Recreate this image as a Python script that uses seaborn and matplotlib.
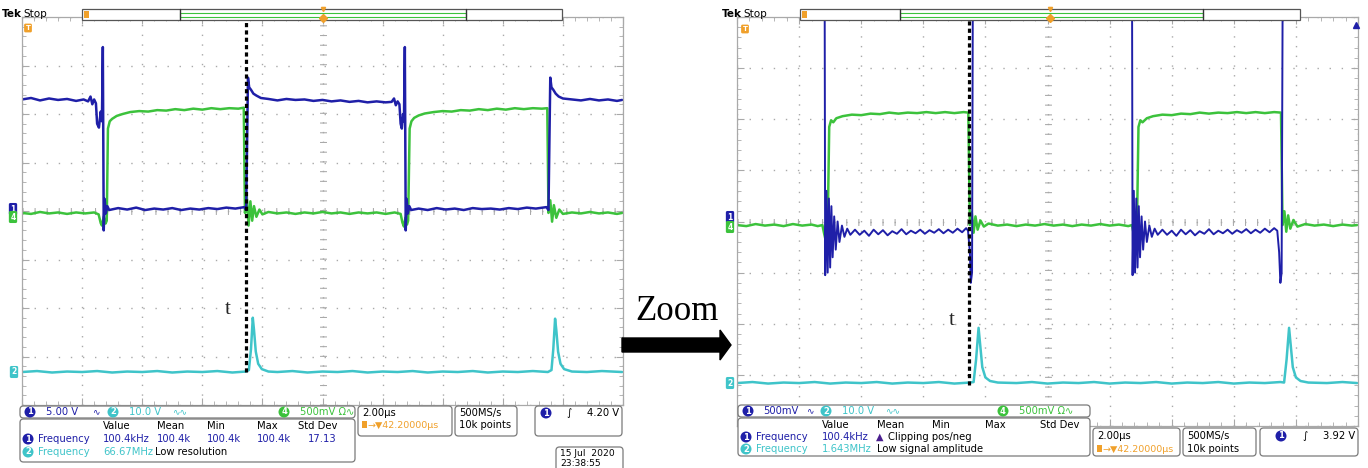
import numpy as np
import pandas as pd
import matplotlib
matplotlib.use("Agg")
import matplotlib.pyplot as plt
import seaborn as sns
from matplotlib.patches import FancyBboxPatch, Rectangle, Polygon

# ---------------- data: (time in µs, level in screen divisions) ----------------
# Left screen (5.00 V/div ch1, 10.0 V ch2, 500 mV ch4, 2.00 µs/div)
L_CH1 = [(0.00, 6.30), (0.30, 6.33), (0.60, 6.28), (0.90, 6.32), (1.20, 6.29), (1.50, 6.31),
         (1.80, 6.27), (2.05, 6.30), (2.20, 6.26), (2.28, 6.36), (2.34, 6.20), (2.40, 6.30),
         (2.46, 6.22), (2.50, 5.80), (2.56, 5.72), (2.62, 6.05), (2.66, 5.85), (2.69, 7.38),
         (2.72, 3.60), (2.75, 4.25), (2.79, 3.95), (2.84, 4.10), (2.90, 4.02), (3.20, 4.06),
         (3.50, 4.03), (3.80, 4.07), (4.10, 4.02), (4.40, 4.05), (4.70, 4.03), (5.00, 4.06),
         (5.30, 4.02), (5.60, 4.05), (5.90, 4.03), (6.20, 4.06), (6.50, 4.04), (6.80, 4.07),
         (7.10, 4.05), (7.40, 4.08), (7.46, 4.02), (7.52, 6.75), (7.56, 6.55), (7.62, 6.50),
         (7.70, 6.42), (7.80, 6.38), (7.95, 6.33), (8.20, 6.31), (8.50, 6.28), (8.80, 6.31),
         (9.10, 6.29), (9.40, 6.30), (9.70, 6.27), (10.0, 6.29), (10.3, 6.26), (10.6, 6.28),
         (10.9, 6.25), (11.2, 6.27), (11.5, 6.24), (11.8, 6.26), (12.1, 6.24), (12.30, 6.25),
         (12.38, 6.32), (12.44, 6.18), (12.50, 6.26), (12.56, 6.20), (12.60, 5.80), (12.64, 5.70),
         (12.68, 6.00), (12.71, 5.85), (12.74, 7.38), (12.77, 3.60), (12.80, 4.25), (12.84, 3.95),
         (12.89, 4.10), (12.95, 4.02), (13.2, 4.05), (13.5, 4.02), (13.8, 4.06), (14.1, 4.03),
         (14.4, 4.05), (14.7, 4.02), (15.0, 4.06), (15.3, 4.04), (15.6, 4.05), (15.9, 4.03),
         (16.2, 4.06), (16.5, 4.04), (16.8, 4.07), (17.1, 4.05), (17.45, 4.08), (17.52, 4.02),
         (17.58, 6.75), (17.62, 6.55), (17.68, 6.50), (17.76, 6.42), (17.86, 6.36), (18.0, 6.32),
         (18.3, 6.30), (18.6, 6.28), (18.9, 6.31), (19.2, 6.28), (19.5, 6.30), (19.8, 6.27),
         (19.97, 6.29)]
L_CH4 = [(0.0, 3.96), (0.3, 3.94), (0.6, 3.98), (0.9, 3.95), (1.2, 3.97), (1.5, 3.94), (1.8, 3.97),
         (2.1, 3.95), (2.4, 3.97), (2.55, 3.93), (2.62, 3.75), (2.66, 3.70), (2.72, 3.88),
         (2.78, 3.74), (2.82, 3.80), (2.86, 5.70), (2.92, 5.85), (3.0, 5.90), (3.15, 5.96),
         (3.35, 6.00), (3.6, 6.04), (3.9, 6.06), (4.2, 6.05), (4.5, 6.08), (4.8, 6.07), (5.1, 6.10),
         (5.4, 6.08), (5.7, 6.11), (6.0, 6.09), (6.3, 6.12), (6.6, 6.10), (6.9, 6.12), (7.2, 6.11),
         (7.38, 6.13), (7.42, 3.96), (7.48, 4.30), (7.54, 3.70), (7.60, 4.20), (7.66, 3.80),
         (7.72, 4.10), (7.80, 3.88), (7.90, 4.03), (8.0, 3.93), (8.2, 3.98), (8.5, 3.95), (8.8, 3.97),
         (9.1, 3.94), (9.4, 3.97), (9.7, 3.95), (10.0, 3.98), (10.3, 3.95), (10.6, 3.97), (10.9, 3.94),
         (11.2, 3.97), (11.5, 3.95), (11.8, 3.97), (12.1, 3.94), (12.4, 3.97), (12.6, 3.94),
         (12.66, 3.76), (12.71, 3.68), (12.76, 3.86), (12.81, 3.72), (12.85, 3.80), (12.90, 5.70),
         (12.96, 5.85), (13.05, 5.92), (13.2, 5.97), (13.4, 6.01), (13.7, 6.04), (14.0, 6.06),
         (14.3, 6.05), (14.6, 6.08), (14.9, 6.07), (15.2, 6.10), (15.5, 6.08), (15.8, 6.11),
         (16.1, 6.09), (16.4, 6.12), (16.7, 6.10), (17.0, 6.12), (17.3, 6.11), (17.48, 6.12),
         (17.52, 3.96), (17.58, 4.22), (17.64, 3.78), (17.70, 4.12), (17.78, 3.86), (17.88, 4.03),
         (18.0, 3.94), (18.3, 3.97), (18.6, 3.95), (18.9, 3.98), (19.2, 3.95), (19.5, 3.97),
         (19.8, 3.94), (19.97, 3.96)]
L_CH2 = [(0.0, 0.68), (0.5, 0.70), (1.0, 0.67), (1.5, 0.69), (2.0, 0.68), (2.5, 0.70), (3.0, 0.67),
         (3.5, 0.69), (4.0, 0.68), (4.5, 0.70), (5.0, 0.67), (5.5, 0.69), (6.0, 0.68), (6.5, 0.70),
         (7.0, 0.67), (7.45, 0.69), (7.55, 0.72), (7.62, 1.15), (7.68, 1.80), (7.72, 1.55),
         (7.78, 1.10), (7.86, 0.85), (7.98, 0.74), (8.2, 0.69), (8.5, 0.68), (9.0, 0.70), (9.5, 0.67),
         (10.0, 0.69), (10.5, 0.68), (11.0, 0.70), (11.5, 0.67), (12.0, 0.69), (12.5, 0.68),
         (13.0, 0.70), (13.5, 0.67), (14.0, 0.69), (14.5, 0.68), (15.0, 0.70), (15.5, 0.67),
         (16.0, 0.69), (16.5, 0.68), (17.0, 0.70), (17.5, 0.68), (17.62, 0.72), (17.68, 1.15),
         (17.74, 1.78), (17.78, 1.55), (17.84, 1.10), (17.92, 0.85), (18.04, 0.74), (18.3, 0.69),
         (18.8, 0.68), (19.3, 0.70), (19.97, 0.68)]

# Right screen (zoomed: 500 mV/div ch1, clipped)
R_CH1_A = [(2.82, 9.5), (2.84, 2.95), (2.88, 4.60), (2.92, 3.00), (2.96, 4.45), (3.00, 3.10),
           (3.04, 4.30), (3.08, 3.30), (3.13, 4.10), (3.18, 3.45), (3.24, 4.00), (3.30, 3.60),
           (3.38, 3.92), (3.46, 3.70), (3.55, 3.86), (3.65, 3.74), (3.80, 3.84), (3.95, 3.74),
           (4.10, 3.82), (4.25, 3.72), (4.40, 3.84), (4.55, 3.75), (4.70, 3.83), (4.85, 3.73),
           (5.00, 3.81), (5.15, 3.76), (5.30, 3.85), (5.45, 3.75), (5.60, 3.82), (5.75, 3.77),
           (5.90, 3.84), (6.05, 3.76), (6.20, 3.83), (6.35, 3.78), (6.50, 3.85), (6.65, 3.77),
           (6.80, 3.84), (6.95, 3.78), (7.10, 3.86), (7.25, 3.79), (7.38, 3.87), (7.44, 3.82),
           (7.50, 3.40), (7.53, 2.80), (7.57, 3.00), (7.60, 9.5)]
R_CH1_B = [(12.72, 9.5), (12.74, 2.95), (12.78, 4.60), (12.82, 3.00), (12.86, 4.45), (12.90, 3.10),
           (12.94, 4.30), (12.98, 3.30), (13.03, 4.10), (13.08, 3.45), (13.14, 4.00), (13.20, 3.60),
           (13.28, 3.92), (13.36, 3.70), (13.45, 3.86), (13.55, 3.74), (13.70, 3.84), (13.85, 3.74),
           (14.00, 3.82), (14.15, 3.72), (14.30, 3.84), (14.45, 3.75), (14.60, 3.83), (14.75, 3.73),
           (14.90, 3.81), (15.05, 3.76), (15.20, 3.85), (15.35, 3.75), (15.50, 3.82), (15.65, 3.77),
           (15.80, 3.84), (15.95, 3.76), (16.10, 3.83), (16.25, 3.78), (16.40, 3.85), (16.55, 3.77),
           (16.70, 3.84), (16.85, 3.78), (17.00, 3.86), (17.15, 3.79), (17.30, 3.87), (17.40, 3.82),
           (17.46, 3.40), (17.50, 2.80), (17.54, 3.00), (17.58, 9.5)]
R_CH4 = [(0.0, 3.93), (0.3, 3.91), (0.6, 3.95), (0.9, 3.92), (1.2, 3.94), (1.5, 3.91), (1.8, 3.95),
         (2.1, 3.92), (2.4, 3.94), (2.6, 3.91), (2.75, 3.93), (2.80, 3.78), (2.86, 3.62),
         (2.92, 3.85), (2.97, 5.85), (3.03, 5.98), (3.10, 5.94), (3.2, 6.02), (3.4, 6.06),
         (3.7, 6.09), (4.0, 6.08), (4.3, 6.11), (4.6, 6.10), (4.9, 6.13), (5.2, 6.11), (5.5, 6.13),
         (5.8, 6.12), (6.1, 6.14), (6.4, 6.12), (6.7, 6.14), (7.0, 6.12), (7.3, 6.14), (7.45, 6.13),
         (7.50, 3.93), (7.56, 4.18), (7.62, 3.78), (7.68, 4.10), (7.75, 3.84), (7.84, 4.02),
         (7.95, 3.90), (8.1, 3.96), (8.4, 3.92), (8.7, 3.94), (9.0, 3.91), (9.3, 3.94), (9.6, 3.92),
         (9.9, 3.95), (10.2, 3.92), (10.5, 3.94), (10.8, 3.91), (11.1, 3.94), (11.4, 3.92),
         (11.7, 3.95), (12.0, 3.92), (12.3, 3.94), (12.6, 3.91), (12.72, 3.93), (12.77, 3.78),
         (12.83, 3.62), (12.88, 3.85), (12.93, 5.85), (12.99, 5.98), (13.06, 5.94), (13.2, 6.02),
         (13.4, 6.06), (13.7, 6.09), (14.0, 6.08), (14.3, 6.11), (14.6, 6.10), (14.9, 6.13),
         (15.2, 6.11), (15.5, 6.13), (15.8, 6.12), (16.1, 6.14), (16.4, 6.12), (16.7, 6.14),
         (17.0, 6.12), (17.3, 6.14), (17.52, 6.13), (17.57, 3.93), (17.63, 4.20), (17.69, 3.80),
         (17.75, 4.12), (17.82, 3.86), (17.92, 4.03), (18.05, 3.90), (18.3, 3.95), (18.6, 3.92),
         (18.9, 3.94), (19.2, 3.91), (19.5, 3.94), (19.8, 3.92), (19.97, 3.93)]
R_CH2 = [(0.0, 0.84), (0.5, 0.86), (1.0, 0.83), (1.5, 0.85), (2.0, 0.84), (2.5, 0.86), (3.0, 0.83),
         (3.5, 0.85), (4.0, 0.84), (4.5, 0.86), (5.0, 0.83), (5.5, 0.85), (6.0, 0.84), (6.5, 0.86),
         (7.0, 0.83), (7.5, 0.85), (7.62, 0.86), (7.70, 1.30), (7.78, 1.92), (7.83, 1.60),
         (7.90, 1.15), (8.0, 0.95), (8.15, 0.88), (8.4, 0.85), (9.0, 0.84), (9.5, 0.86), (10.0, 0.83),
         (10.5, 0.85), (11.0, 0.84), (11.5, 0.86), (12.0, 0.83), (12.5, 0.85), (13.0, 0.84),
         (13.5, 0.86), (14.0, 0.83), (14.5, 0.85), (15.0, 0.84), (15.5, 0.86), (16.0, 0.83),
         (16.5, 0.85), (17.0, 0.84), (17.5, 0.86), (17.62, 0.85), (17.70, 1.30), (17.78, 1.92),
         (17.83, 1.60), (17.90, 1.15), (18.0, 0.95), (18.15, 0.88), (18.4, 0.85), (19.0, 0.84),
         (19.5, 0.86), (19.97, 0.84)]

# marker "t" (time of interest, µs) and bottom of the dashed marker (div)
L_MARK_T, L_MARK_BOTTOM = 7.44, 0.68
R_MARK_T, R_MARK_BOTTOM = 7.48, 0.80

# readout text
L_SCALES = ["5.00 V", "10.0 V", "500mV Ω∿"]
R_SCALES = ["500mV", "10.0 V", "500mV Ω∿"]
MEAS_HEAD = ["Value", "Mean", "Min", "Max", "Std Dev"]
L_MEAS_1 = ["100.4kHz", "100.4k", "100.4k", "100.4k", "17.13"]
L_MEAS_2 = ["66.67MHz", "Low resolution"]
R_MEAS_1 = ["100.4kHz", "Clipping pos/neg"]
R_MEAS_2 = ["1.643MHz", "Low signal amplitude"]
TIMEBASE = ["2.00µs", "→▼42.20000µs", "500MS/s", "10k points"]
L_TRIG, R_TRIG = "4.20 V", "3.92 V"

# ---------------- style ----------------
sns.set_theme(style="white")
plt.rcParams["font.family"] = ["DejaVu Sans"]
BLUE, GREEN, CYAN = "#1f1fa8", "#3cc23c", "#3fc4c9"
ORANGE, GRIDC, BOXC = "#f0a02a", "#a9a9a9", "#7a7a7a"
W, H = 1368, 468

fig = plt.figure(figsize=(W / 100, H / 100), dpi=100)
fig.patch.set_facecolor("white")


def ax_px(x0, y0, x1, y1):
    return fig.add_axes([x0 / W, 1 - y1 / H, (x1 - x0) / W, (y1 - y0) / H])


def trace(ax, pts, color, lw=1.8, unit=0):
    df = pd.DataFrame(pts, columns=["t", "v"])
    df["seg"] = unit
    sns.lineplot(data=df, x="t", y="v", units="seg", estimator=None, sort=False,
                 color=color, lw=lw, ax=ax, legend=False)


def setup_scope(ax):
    ax.set_xlim(0, 20)
    ax.set_ylim(0, 8)
    ax.set_facecolor("white")
    ax.set_xticks(np.arange(0, 20.01, 2))
    ax.set_yticks(np.arange(0, 8.01, 1))
    ax.set_xticks(np.arange(0, 20.01, 0.4), minor=True)
    ax.set_yticks(np.arange(0, 8.01, 0.2), minor=True)
    ax.tick_params(which="both", direction="in", top=True, right=True, bottom=True, left=True,
                   labelbottom=False, labelleft=False, color=GRIDC)
    ax.tick_params(which="major", length=5, width=0.8)
    ax.tick_params(which="minor", length=3, width=0.6)
    ax.set_xlabel("")
    ax.set_ylabel("")
    for s in ax.spines.values():
        s.set_color(GRIDC)
        s.set_linewidth(0.9)
    ax.xaxis.grid(True, which="major", color=GRIDC, lw=1.0, ls=(0, (1, 6)))
    ax.yaxis.grid(True, which="major", color=GRIDC, lw=1.0, ls=(0, (1, 7.7)))
    ax.axvline(10, color=GRIDC, lw=5, ls=(0, (0.15, 1.25)), zorder=0.5)
    ax.axhline(4, color=GRIDC, lw=5, ls=(0, (0.15, 1.59)), zorder=0.5)
    ax.set_axisbelow(True)


axL = ax_px(22, 17, 623, 405)
axR = ax_px(737, 17, 1358, 426)

trace(axL, L_CH4, GREEN)
trace(axL, L_CH1, BLUE)
trace(axL, L_CH2, CYAN)
trace(axR, R_CH4, GREEN)
trace(axR, R_CH1_A, BLUE, lw=1.4)
trace(axR, R_CH1_B, BLUE, lw=1.4)
trace(axR, R_CH2, CYAN)

for ax in (axL, axR):
    setup_scope(ax)

axL.plot([L_MARK_T, L_MARK_T], [L_MARK_BOTTOM, 8.15], color="black", lw=2.3,
         ls=(0, (1.3, 1.0)), clip_on=False, zorder=5)
axR.plot([R_MARK_T, R_MARK_T], [R_MARK_BOTTOM, 8.0], color="black", lw=2.3,
         ls=(0, (1.3, 1.0)), clip_on=False, zorder=5)
axL.text(L_MARK_T - 0.6, 1.96, "t", family="Liberation Serif", fontsize=15, ha="center", va="center")
axR.text(R_MARK_T - 0.55, 2.07, "t", family="Liberation Serif", fontsize=15, ha="center", va="center")

# ---------------- overlay for the instrument read-outs ----------------
ov = fig.add_axes([0, 0, 1, 1])
ov.set_xlim(0, W)
ov.set_ylim(H, 0)
ov.axis("off")
ov.patch.set_visible(False)

FS = 7.2


def txt(x, y, s, color="black", ha="left", size=FS, **kw):
    ov.text(x, y, s, color=color, ha=ha, va="center", fontsize=size, **kw)


def badge(x, y, s, color, style="circle,pad=0.12", size=6):
    ov.text(x, y, s, color="white", ha="center", va="center", fontsize=size, fontweight="bold",
            bbox=dict(boxstyle=style, fc=color, ec="none"))


def rbox(x0, y0, x1, y1):
    ov.add_patch(FancyBboxPatch((x0, y0), x1 - x0, y1 - y0,
                                boxstyle="round,pad=0,rounding_size=3.5",
                                ec=BOXC, fc="white", lw=0.9))


def header(x0, bx0, bm0, bm1, bx1, xc):
    txt(x0, 14, "Tek", fontweight="bold", size=7.5)
    txt(x0 + 21, 14, "Stop", size=7.5)
    ov.add_patch(Rectangle((bx0, 9), bx1 - bx0, 11, ec="#555555", fc="white", lw=0.9))
    ov.plot([bm0, bm0], [9, 20], color="#333333", lw=1.0)
    ov.plot([bm1, bm1], [9, 20], color="#333333", lw=1.0)
    ov.add_patch(Rectangle((bm0, 12.5), bm1 - bm0, 4, ec=GREEN, fc="none", lw=0.8))
    ov.add_patch(Rectangle((bx0 + 2, 11), 5, 7, ec="none", fc=ORANGE))
    ov.plot([xc], [17.5], marker="D", ms=4, color=ORANGE)
    ov.plot([xc], [9], marker="v", ms=3, color=ORANGE)


header(2, 82, 180, 466, 562, 323)
header(722, 800, 900, 1203, 1300, 1050)

# channel markers on the left edges
badge(13, 209, "1", BLUE, "round,pad=0.2", 5.5)
badge(13, 217, "4", GREEN, "round,pad=0.2", 5.5)
badge(14, 372, "2", CYAN, "round,pad=0.2", 5.5)
badge(730, 217, "1", BLUE, "round,pad=0.2", 5.5)
badge(730, 227, "4", GREEN, "round,pad=0.2", 5.5)
badge(730, 383, "2", CYAN, "round,pad=0.2", 5.5)
badge(28, 28, "T", ORANGE, "round,pad=0.2", 5)
badge(745, 29, "T", ORANGE, "round,pad=0.2", 5)
ov.plot([1356], [25], marker="^", ms=4.5, color=BLUE)

# ---- left read-outs ----
rbox(20, 406, 355, 418)
badge(30, 412, "1", BLUE)
txt(46, 412, L_SCALES[0], BLUE)
txt(92, 412, "∿", BLUE, size=6.5)
badge(113, 412, "2", CYAN)
txt(129, 412, L_SCALES[1], CYAN)
txt(172, 412, "∿∿", CYAN, size=6.5)
badge(284, 412, "4", GREEN)
txt(300, 412, L_SCALES[2], GREEN)

rbox(20, 419, 355, 462)
for x, s in zip([103, 157, 207, 257, 298], MEAS_HEAD):
    txt(x, 426, s)
badge(28, 439, "1", BLUE)
txt(38, 439, "Frequency", BLUE)
for x, s in zip([103, 157, 207, 257, 308], L_MEAS_1):
    txt(x, 439, s, BLUE)
badge(28, 452, "2", CYAN)
txt(38, 452, "Frequency", CYAN)
txt(103, 452, L_MEAS_2[0], CYAN)
txt(155, 452, L_MEAS_2[1])

rbox(358, 406, 452, 436)
txt(362, 413, TIMEBASE[0])
ov.add_patch(Rectangle((362, 421), 5, 7, ec="none", fc=ORANGE))
txt(367, 425, TIMEBASE[1], ORANGE, size=6.8)
rbox(455, 406, 517, 436)
txt(459, 413, TIMEBASE[2])
txt(459, 425, TIMEBASE[3])
rbox(535, 406, 622, 436)
badge(546, 413, "1", BLUE)
txt(566, 413, "∫")
txt(619, 413, L_TRIG, ha="right")
rbox(556, 447, 623, 475)
txt(560, 454, "15 Jul  2020", size=6.6)
txt(560, 463, "23:38:55", size=6.6)

# ---- right read-outs ----
rbox(738, 405, 1090, 417)
badge(748, 411, "1", BLUE)
txt(763, 411, R_SCALES[0], BLUE)
txt(806, 411, "∿", BLUE, size=6.5)
badge(826, 411, "2", CYAN)
txt(842, 411, R_SCALES[1], CYAN)
txt(885, 411, "∿∿", CYAN, size=6.5)
badge(1003, 411, "4", GREEN)
txt(1019, 411, R_SCALES[2], GREEN)

rbox(738, 418, 1090, 456)
for x, s in zip([822, 877, 932, 985, 1040], MEAS_HEAD):
    txt(x, 425, s)
badge(746, 437, "1", BLUE)
txt(756, 437, "Frequency", BLUE)
txt(822, 437, R_MEAS_1[0], BLUE)
txt(876, 437, "▲", "#4b1f8f", size=7)
txt(888, 437, R_MEAS_1[1])
badge(746, 449, "2", CYAN)
txt(756, 449, "Frequency", CYAN)
txt(822, 449, R_MEAS_2[0], CYAN)
txt(877, 449, R_MEAS_2[1])

rbox(1093, 428, 1180, 456)
txt(1097, 436, TIMEBASE[0])
ov.add_patch(Rectangle((1097, 445), 5, 7, ec="none", fc=ORANGE))
txt(1102, 449, TIMEBASE[1], ORANGE, size=6.8)
rbox(1183, 428, 1256, 456)
txt(1187, 436, TIMEBASE[2])
txt(1187, 449, TIMEBASE[3])
rbox(1260, 428, 1358, 456)
badge(1281, 436, "1", BLUE)
txt(1302, 436, "∫")
txt(1355, 436, R_TRIG, ha="right")

# ---- "Zoom" arrow between the screens ----
txt(677, 311, "Zoom", ha="center", size=25, family="Liberation Serif")
ov.add_patch(Polygon([(622, 338), (720, 338), (720, 330), (731, 345), (720, 360), (720, 352),
                      (622, 352)], closed=True, fc="black", ec="black"))

fig.savefig("out.png", dpi=100, facecolor="white")
